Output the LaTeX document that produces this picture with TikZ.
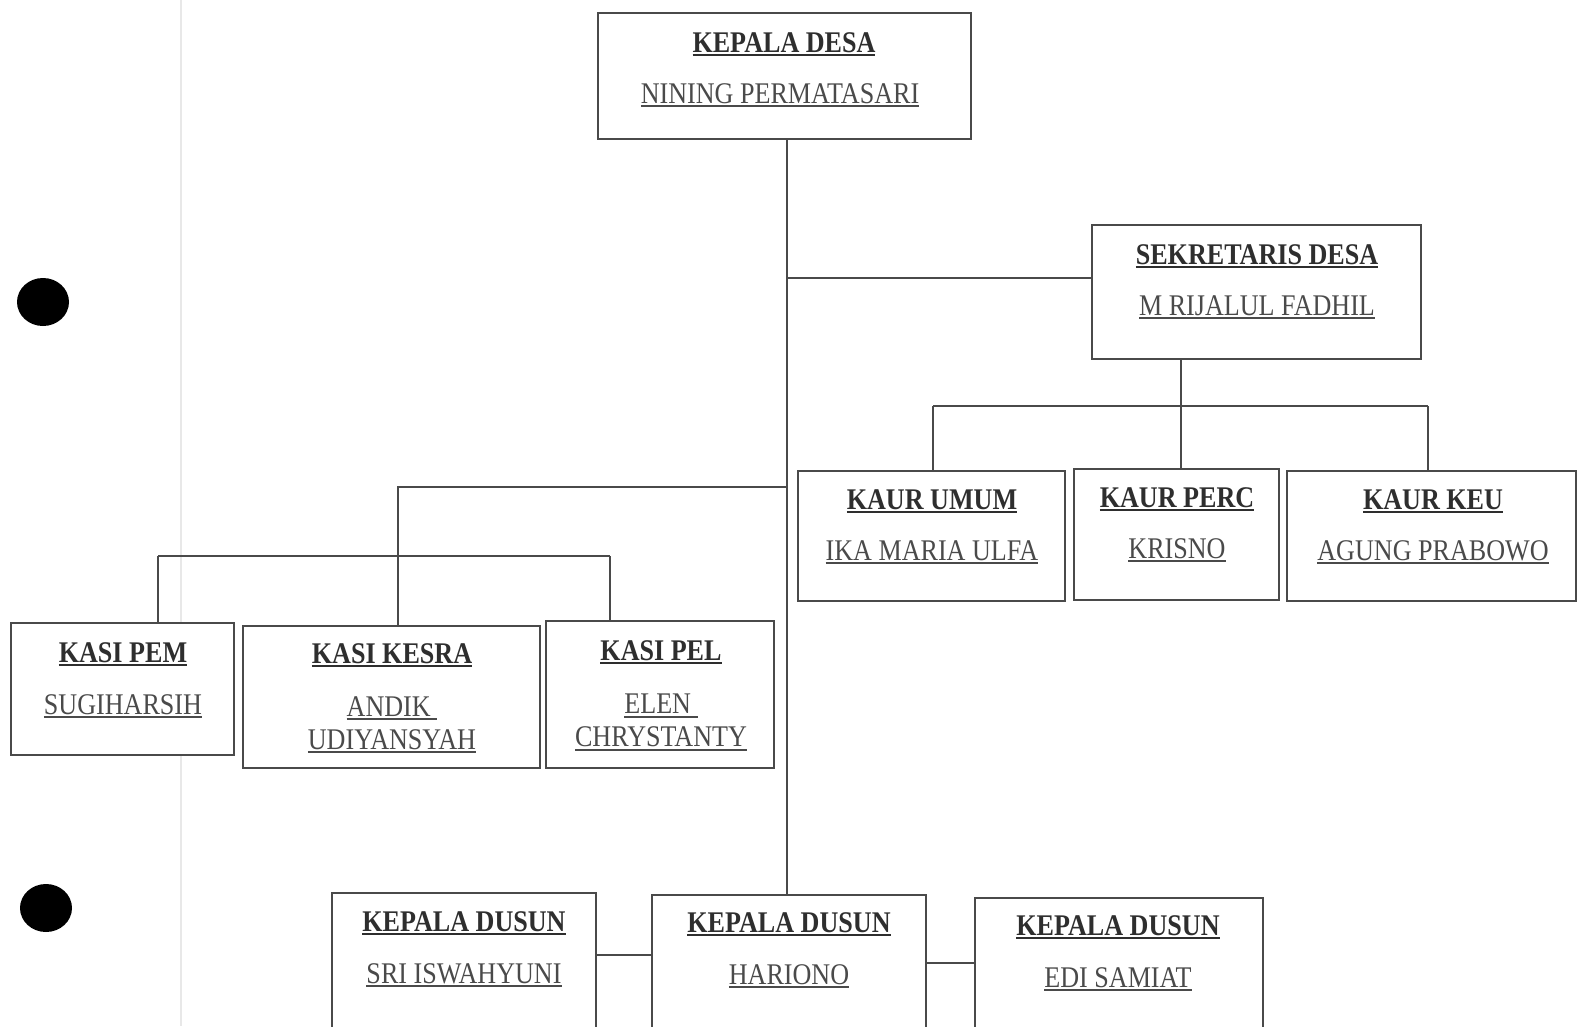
\documentclass[tikz,border=0pt]{standalone}
\usepackage{fontspec}
\setmainfont{Liberation Serif}[FakeStretch=0.87]
\definecolor{ink}{HTML}{2E2E2E}
\definecolor{nameink}{HTML}{4A4A4A}
\definecolor{linec}{HTML}{4A4A4A}
\newcommand{\myul}[1]{\setbox0=\hbox{#1}\rlap{\rule[-4pt]{\wd0}{1.6pt}}\box0}
\tikzset{
  orgbox/.style={draw=linec, line width=1.6pt, fill=white, inner sep=0pt},
  ttl/.style={anchor=base, inner sep=0pt, text=ink, font=\fontsize{30}{33}\selectfont\bfseries},
  nm/.style={anchor=base, inner sep=0pt, text=nameink, align=center, font=\fontsize{30}{33}\selectfont},
  conn/.style={draw=linec, line width=1.5pt},
  hole/.style={fill=black, draw=none}
}
\begin{document}
\begin{tikzpicture}[x=1pt,y=-1pt]
\fill[white] (0,0) rectangle (1577,1026);
\useasboundingbox (0,0) rectangle (1577,1026);
\clip (0,0) rectangle (1577,1026);
% faint scan fold line and punch holes
\draw[gray!18, line width=2pt] (181,0) -- (181,1026);
\fill[hole] (43,302) ellipse (26pt and 24pt);
\fill[hole] (46,908) ellipse (26pt and 24pt);

% boxes
\node[orgbox, minimum width=373pt, minimum height=126pt] (kd) at (784.5,76) {};
\node[orgbox, minimum width=329pt, minimum height=134pt] (sek) at (1256.5,292) {};
\node[orgbox, minimum width=267pt, minimum height=130pt] (ku) at (931.5,536) {};
\node[orgbox, minimum width=205pt, minimum height=131pt] (kp) at (1176.5,534.5) {};
\node[orgbox, minimum width=289pt, minimum height=130pt] (kk) at (1431.5,536) {};
\node[orgbox, minimum width=223pt, minimum height=132pt] (pem) at (122.5,689) {};
\node[orgbox, minimum width=297pt, minimum height=142pt] (kes) at (391.5,697) {};
\node[orgbox, minimum width=228pt, minimum height=147pt] (pel) at (660,694.5) {};
\node[orgbox, minimum width=264pt, minimum height=160pt] (d1) at (464,973) {};
\node[orgbox, minimum width=274pt, minimum height=160pt] (d2) at (789,975) {};
\node[orgbox, minimum width=288pt, minimum height=160pt] (d3) at (1119,978) {};

% texts
\node[ttl] (kdT) at (784,52) {\myul{KEPALA DESA}};
\node[nm]  (kdN) at (780,103) {\myul{NINING PERMATASARI}};
\node[ttl] (sekT) at (1257,264) {\myul{SEKRETARIS DESA}};
\node[nm]  (sekN) at (1257,315) {\myul{M RIJALUL FADHIL}};
\node[ttl] (kuT) at (932,509) {\myul{KAUR UMUM}};
\node[nm]  (kuN) at (932,560) {\myul{IKA MARIA ULFA}};
\node[ttl] (kpT) at (1177,507) {\myul{KAUR PERC}};
\node[nm]  (kpN) at (1177,558) {\myul{KRISNO}};
\node[ttl] (kkT) at (1433,509) {\myul{KAUR KEU}};
\node[nm]  (kkN) at (1433,560) {\myul{AGUNG PRABOWO}};
\node[ttl] (pemT) at (123,662) {\myul{KASI PEM}};
\node[nm]  (pemN) at (123,714) {\myul{SUGIHARSIH}};
\node[ttl] (kesT) at (392,663) {\myul{KASI KESRA}};
\node[nm, anchor=north] (kesN) at (392,696) {\myul{ANDIK\ }\\\myul{UDIYANSYAH}};
\node[ttl] (pelT) at (661,660) {\myul{KASI PEL}};
\node[nm, anchor=north] (pelN) at (661,694) {\myul{ELEN\ }\\\myul{CHRYSTANTY}};
\node[ttl] (d1T) at (464,931) {\myul{KEPALA DUSUN}};
\node[nm]  (d1N) at (464,983) {\myul{SRI ISWAHYUNI}};
\node[ttl] (d2T) at (789,932) {\myul{KEPALA DUSUN}};
\node[nm]  (d2N) at (789,984) {\myul{HARIONO}};
\node[ttl] (d3T) at (1118,935) {\myul{KEPALA DUSUN}};
\node[nm]  (d3N) at (1118,987) {\myul{EDI SAMIAT}};

% junction coordinates
\coordinate (tX) at (787,0);
\coordinate (sY) at (0,278);
\coordinate (kaurBarY) at (0,406);
\coordinate (kaurL) at (933,0);
\coordinate (kaurM) at (1181,0);
\coordinate (kaurR) at (1428,0);
\coordinate (kasiY) at (0,487);
\coordinate (kasiBarY) at (0,556);
\coordinate (kasiL) at (158,0);
\coordinate (kasiM) at (398,0);
\coordinate (kasiR) at (610,0);
\coordinate (dA) at (0,955);
\coordinate (dB) at (0,963);

% connectors
\draw[conn] (kd.south -| tX) -- (d2.north -| tX);
\draw[conn] (tX |- sY) -- (sek.west |- sY);
\draw[conn] (sek.south -| kaurM) -- (kaurM |- kaurBarY);
\draw[conn] (kaurL |- kaurBarY) -- (kaurR |- kaurBarY);
\draw[conn] (kaurL |- kaurBarY) -- (ku.north -| kaurL);
\draw[conn] (kaurM |- kaurBarY) -- (kp.north -| kaurM);
\draw[conn] (kaurR |- kaurBarY) -- (kk.north -| kaurR);
\draw[conn] (tX |- kasiY) -- (kasiM |- kasiY) -- (kes.north -| kasiM);
\draw[conn] (kasiL |- kasiBarY) -- (kasiR |- kasiBarY);
\draw[conn] (kasiL |- kasiBarY) -- (pem.north -| kasiL);
\draw[conn] (kasiR |- kasiBarY) -- (pel.north -| kasiR);
\draw[conn] (d1.east |- dA) -- (d2.west |- dA);
\draw[conn] (d2.east |- dB) -- (d3.west |- dB);
\end{tikzpicture}
\end{document}
